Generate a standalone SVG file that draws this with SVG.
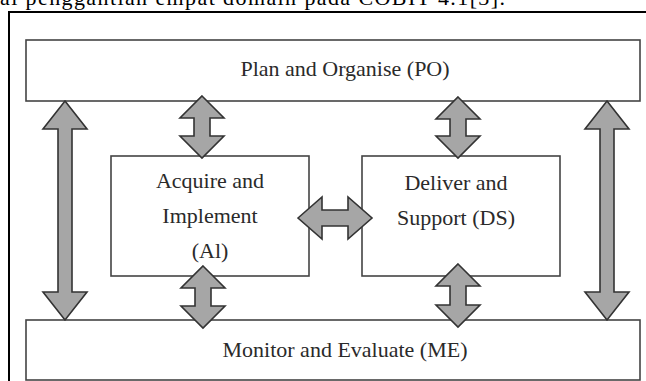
<svg xmlns="http://www.w3.org/2000/svg" width="646" height="381" viewBox="0 0 646 381">
<style>
.box{fill:#fff;stroke:#444;stroke-width:1.6}
.arr{fill:#a6a6a6;stroke:#333;stroke-width:1.6;stroke-linejoin:miter}
.t{font-family:"Liberation Serif","Times New Roman",serif;font-size:22px;fill:#2a2a2a;text-anchor:middle}
.cap{font-family:"Liberation Serif","Times New Roman",serif;font-size:22px;fill:#000}
</style>
<rect x="0" y="0" width="646" height="381" fill="#fff"/>
<text class="cap" x="0" y="5" textLength="505" lengthAdjust="spacing">ai penggantian empat domain pada COBIT 4.1[3].</text>
<path d="M9,381 L9,12 L646,12" fill="none" stroke="#000" stroke-width="2"/>
<g id="PO"><rect class="box" x="26" y="40" width="614" height="61"/><text class="t" x="345" y="76">Plan and Organise (PO)</text></g>
<g id="ME"><rect class="box" x="26" y="320" width="614" height="60"/><text class="t" x="345" y="357">Monitor and Evaluate (ME)</text></g>
<g id="AI"><rect class="box" x="111" y="156" width="198" height="120"/><text class="t" x="210" y="188">Acquire and</text><text class="t" x="210" y="223">Implement</text><text class="t" x="210" y="258">(Al)</text></g>
<g id="DS"><rect class="box" x="362" y="156" width="198" height="120"/><text class="t" x="456" y="190">Deliver and</text><text class="t" x="456" y="225">Support (DS)</text></g>
<g id="connectors">
<path class="arr" d="M65,101 L87,129 L72,129 L72,292 L87,292 L65,320 L43,292 L58,292 L58,129 L43,129 Z"/>
<path class="arr" d="M607,101 L629,129 L614,129 L614,292 L629,292 L607,320 L585,292 L600,292 L600,129 L585,129 Z"/>
<path class="arr" d="M202,96 L224,118 L210,118 L210,136 L224,136 L202,158 L180,136 L194,136 L194,118 L180,118 Z"/>
<path class="arr" d="M458,97 L480,119 L466,119 L466,136 L480,136 L458,158 L436,136 L450,136 L450,119 L436,119 Z"/>
<path class="arr" d="M203,266 L225,288 L211,288 L211,306 L225,306 L203,328 L181,306 L195,306 L195,288 L181,288 Z"/>
<path class="arr" d="M458,264 L480,286 L466,286 L466,305 L480,305 L458,327 L436,305 L450,305 L450,286 L436,286 Z"/>
<path class="arr" d="M298,218 L322,197 L322,210 L348,210 L348,197 L372,218 L348,239 L348,226 L322,226 L322,239 Z"/>
</g>
</svg>
